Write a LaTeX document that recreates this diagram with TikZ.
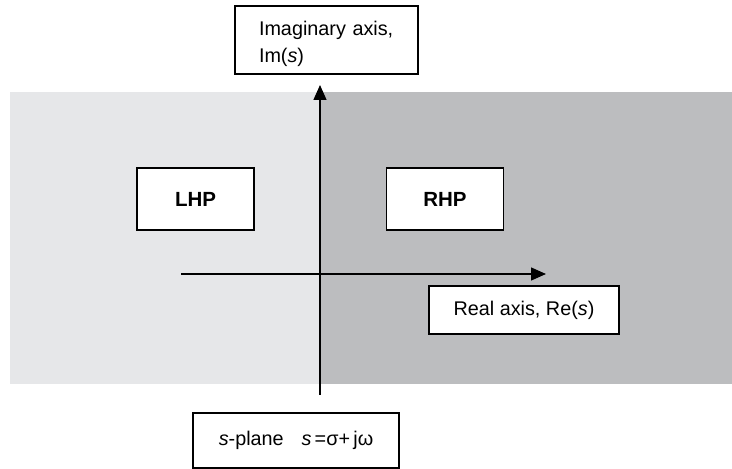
\documentclass[tikz,border=0pt]{standalone}
\usepackage{fontspec}
\setmainfont{Liberation Sans}
\usetikzlibrary{arrows.meta}
\definecolor{lhpgray}{HTML}{E6E7E9}
\definecolor{rhpgray}{HTML}{BCBDBF}
\begin{document}
\begin{tikzpicture}[x=1pt,y=1pt,
  label box/.style={draw=black, line width=1.4pt, fill=white, inner sep=0pt,
    font=\fontsize{19.8}{27}\selectfont},
  half box/.style={label box, minimum width=117pt, minimum height=62pt,
    font=\fontsize{20.5}{24}\selectfont\bfseries},
  axis/.style={line width=1.4pt, -{Triangle[length=15pt,width=13pt]}}]
\useasboundingbox (0,0) rectangle (732,469);

% the two half planes
\fill[lhpgray] (10,85) rectangle (321,377);
\fill[rhpgray] (321,85) rectangle (732,377);

% axis end points
\coordinate (imlow) at (320,74);
\coordinate (imtop) at (320,384);
\coordinate (releft) at (181,195);
\coordinate (reright) at (546,195);

\draw[axis] (imlow) -- (imtop);
\draw[axis] (releft) -- (reright);

% labels
\node[label box, minimum width=183pt, minimum height=68pt, text width=135pt,
      align=left, inner xsep=24pt] (imag) at (326.5,429)
  {\rule{0pt}{22pt}Imaginary axis,\\Im(\textit{s})};
\node[half box] (lhp) at (195.5,270) {LHP};
\node[half box] (rhp) at (445,270) {RHP};
\node[label box, minimum width=190pt, minimum height=48pt] (real) at (524,159)
  {Real axis, Re(\textit{s})};
\node[label box, minimum width=206pt, minimum height=55pt] (splane) at (296,28.5)
  {\textit{s}-plane\hspace{0.9em}\textit{s}\,=σ+\,jω};
\end{tikzpicture}
\end{document}
